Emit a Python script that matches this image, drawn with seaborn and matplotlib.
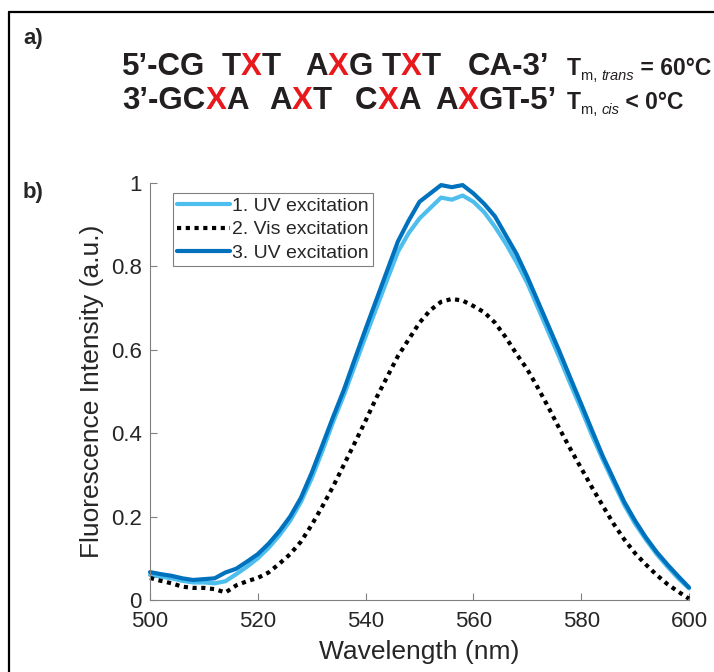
import numpy as np
import pandas as pd
import seaborn as sns
import matplotlib.pyplot as plt
from matplotlib.lines import Line2D

# ---------------- data ----------------
wavelength = list(range(500, 601, 2))
uv1 = [0.060, 0.056, 0.052, 0.046, 0.042, 0.042, 0.040, 0.045, 0.062, 0.080,
       0.100, 0.125, 0.155, 0.190, 0.235, 0.292, 0.358, 0.428, 0.492, 0.562,
       0.632, 0.700, 0.768, 0.835, 0.880, 0.915, 0.940, 0.965, 0.960, 0.970,
       0.955, 0.930, 0.895, 0.855, 0.810, 0.760, 0.700, 0.640, 0.580, 0.518,
       0.458, 0.395, 0.337, 0.282, 0.228, 0.183, 0.145, 0.110, 0.080, 0.052,
       0.028]
vis2 = [0.053, 0.046, 0.040, 0.032, 0.029, 0.029, 0.026, 0.018, 0.035, 0.045,
        0.053, 0.066, 0.087, 0.110, 0.140, 0.180, 0.225, 0.273, 0.325, 0.377,
        0.430, 0.485, 0.535, 0.585, 0.625, 0.665, 0.695, 0.715, 0.722, 0.718,
        0.705, 0.690, 0.665, 0.630, 0.590, 0.553, 0.508, 0.460, 0.410, 0.362,
        0.316, 0.270, 0.226, 0.183, 0.145, 0.112, 0.085, 0.060, 0.038, 0.020,
        0.003]
uv3 = [0.067, 0.062, 0.058, 0.052, 0.048, 0.050, 0.052, 0.066, 0.075, 0.092,
       0.110, 0.135, 0.165, 0.200, 0.245, 0.305, 0.372, 0.440, 0.505, 0.578,
       0.650, 0.720, 0.790, 0.860, 0.910, 0.955, 0.975, 0.995, 0.990, 0.995,
       0.975, 0.950, 0.920, 0.875, 0.830, 0.775, 0.715, 0.655, 0.595, 0.532,
       0.470, 0.407, 0.345, 0.290, 0.235, 0.190, 0.150, 0.115, 0.085, 0.057,
       0.030]
series_labels = ['1. UV excitation', '2. Vis excitation', '3. UV excitation']
x_ticks = [500, 520, 540, 560, 580, 600]
y_ticks = [0, 0.2, 0.4, 0.6, 0.8, 1]
y_tick_labels = ['0', '0.2', '0.4', '0.6', '0.8', '1']

row1 = [[('5’-CG', 'k')],
        [('T', 'k'), ('X', 'r'), ('T', 'k')],
        [('A', 'k'), ('X', 'r'), ('G', 'k')],
        [('T', 'k'), ('X', 'r'), ('T', 'k')],
        [('CA-3’', 'k')]]
row2 = [[('3’-GC', 'k'), ('X', 'r'), ('A', 'k')],
        [('A', 'k'), ('X', 'r'), ('T', 'k')],
        [('C', 'k'), ('X', 'r'), ('A', 'k')],
        [('A', 'k'), ('X', 'r'), ('GT-5’', 'k')]]
row1_x = [122, 222, 305, 382, 468]
row2_x = [122, 269, 355, 435]

# ---------------- figure ----------------
sns.set_style('ticks')
plt.rcParams['font.family'] = ['Liberation Sans', 'DejaVu Sans']

W, H = 714, 672
fig = plt.figure(figsize=(W / 100, H / 100), dpi=100)
fig.patch.set_facecolor('white')
ax = fig.add_axes([150 / W, 1 - 600 / H, (689 - 150) / W, (600 - 183) / H])

LIGHT = '#4DBEEE'
DARK = '#0072BD'
sns.lineplot(x=wavelength, y=uv1, ax=ax, color=LIGHT, lw=3, label=series_labels[0])
sns.lineplot(x=wavelength, y=vis2, ax=ax, color='black', lw=3,
             linestyle=(0, (1, 1.1)), label=series_labels[1])
sns.lineplot(x=wavelength, y=uv3, ax=ax, color=DARK, lw=3, label=series_labels[2])
for ln in ax.lines:
    ln.set_clip_on(False)

ax.set_xlim(500, 600)
ax.set_ylim(0, 1)
ax.set_xticks(x_ticks)
ax.set_xticklabels([str(v) for v in x_ticks])
ax.set_yticks(y_ticks)
ax.set_yticklabels(y_tick_labels)
sns.despine(ax=ax)
for s in ['left', 'bottom']:
    ax.spines[s].set_color('#808080')
    ax.spines[s].set_linewidth(0.8)
ax.tick_params(direction='in', length=5, width=0.8, color='#808080',
               labelcolor='#262626', labelsize=16)
ax.tick_params(axis='x', pad=8)
ax.tick_params(axis='y', pad=6)
ax.set_xlabel('Wavelength (nm)', fontsize=19, color='#262626', labelpad=6)
ax.set_ylabel('Fluorescence Intensity (a.u.)', fontsize=19, color='#262626', labelpad=5)

leg = ax.legend(loc='upper left', bbox_to_anchor=(173 / W, 1 - 193 / H),
                bbox_transform=fig.transFigure, borderaxespad=0, fontsize=14,
                handlelength=2.7, handletextpad=0.1, borderpad=0.22,
                labelspacing=0.3, frameon=True, fancybox=False,
                edgecolor='#808080', framealpha=1)
leg.get_frame().set_linewidth(0.8)
for t in leg.get_texts():
    t.set_color('#262626')

# outer frame (left and top edges visible)
fig.add_artist(Line2D([9 / W, 9 / W], [0, 1 - 12 / H], transform=fig.transFigure,
                      color='black', lw=1.6))
fig.add_artist(Line2D([9 / W, 1], [1 - 12 / H, 1 - 12 / H], transform=fig.transFigure,
                      color='black', lw=1.6))

fig.text(23 / W, 1 - 44 / H, 'a)', fontsize=16, fontweight='bold', va='baseline')
fig.text(23 / W, 1 - 198 / H, 'b)', fontsize=16, fontweight='bold', va='baseline')

renderer = fig.canvas.get_renderer()


def draw_pieces(x0, ybase, pieces):
    x = x0
    for s, color, props in pieces:
        dy = props.pop('dy', 0)
        t = fig.text(x / W, 1 - (ybase + dy) / H, s, color=color, va='baseline',
                     ha='left', **props)
        bb = t.get_window_extent(renderer)
        x = bb.x1
    return x


SEQ = dict(fontsize=22.5, fontweight='bold')
for groups, xs, yb in [(row1, row1_x, 75), (row2, row2_x, 109)]:
    for grp, x0 in zip(groups, xs):
        draw_pieces(x0, yb, [(s, ('#E8191D' if c == 'r' else '#231F20'), dict(SEQ))
                             for s, c in grp])

BIG = dict(fontsize=16.5, fontweight='bold')
SUB = dict(fontsize=10.5, dy=5)
draw_pieces(567, 75, [('T', '#231F20', dict(BIG)),
                      ('m, ', '#231F20', dict(SUB)),
                      ('trans', '#231F20', dict(SUB, style='italic')),
                      (' = 60°C', '#231F20', dict(BIG))])
draw_pieces(567, 109, [('T', '#231F20', dict(BIG)),
                       ('m, ', '#231F20', dict(SUB)),
                       ('cis', '#231F20', dict(SUB, style='italic')),
                       (' < 0°C', '#231F20', dict(BIG))])

fig.savefig('out.png', dpi=100, facecolor='white')
